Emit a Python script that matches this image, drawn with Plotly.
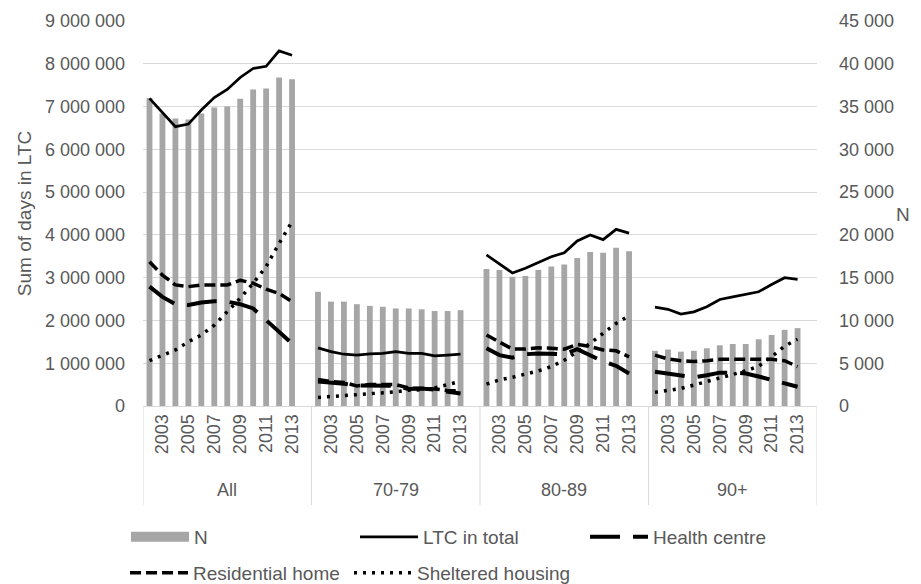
import plotly.graph_objects as go

# ---------------- data ----------------
groups = ["All", "70-79", "80-89", "90+"]
years = [2002, 2003, 2004, 2005, 2006, 2007, 2008, 2009, 2010, 2011, 2012, 2013]
year_labels_shown = [2003, 2005, 2007, 2009, 2011, 2013]

# N (right axis)
n_all = [36000, 34200, 33600, 33500, 34200, 34900, 35000, 35900, 37000, 37100, 38400, 38200]
n_7079 = [13350, 12200, 12200, 11900, 11700, 11600, 11400, 11400, 11300, 11100, 11100, 11200]
n_8089 = [16000, 15900, 15100, 15200, 15900, 16300, 16550, 17300, 18000, 17900, 18500, 18100]
n_90 = [6450, 6600, 6350, 6450, 6750, 7100, 7250, 7250, 7800, 8300, 8900, 9100]

# LTC in total (left axis, days)
ltc_all = [7190000, 6850000, 6530000, 6590000, 6920000, 7210000, 7400000, 7680000, 7890000, 7940000, 8300000, 8200000]
ltc_7079 = [1360000, 1270000, 1210000, 1190000, 1220000, 1230000, 1270000, 1230000, 1230000, 1170000, 1190000, 1210000]
ltc_8089 = [3530000, 3330000, 3110000, 3220000, 3350000, 3490000, 3580000, 3860000, 4000000, 3890000, 4130000, 4040000]
ltc_90 = [2310000, 2260000, 2150000, 2200000, 2320000, 2490000, 2550000, 2610000, 2670000, 2840000, 3000000, 2960000]

# Health centre
hc_all = [2790000, 2550000, 2380000, 2360000, 2420000, 2450000, 2440000, 2380000, 2280000, 2010000, 1740000, 1460000]
hc_7079 = [570000, 550000, 520000, 480000, 470000, 480000, 470000, 400000, 410000, 380000, 330000, 290000]
hc_8089 = [1350000, 1190000, 1130000, 1210000, 1230000, 1230000, 1210000, 1330000, 1190000, 1040000, 940000, 760000]
hc_90 = [800000, 760000, 700000, 670000, 720000, 780000, 780000, 760000, 690000, 610000, 540000, 450000]

# Residential home
rh_all = [3370000, 3060000, 2830000, 2790000, 2830000, 2840000, 2830000, 2940000, 2870000, 2730000, 2630000, 2440000]
rh_7079 = [620000, 570000, 550000, 470000, 500000, 500000, 500000, 420000, 420000, 400000, 360000, 350000]
rh_8089 = [1660000, 1500000, 1330000, 1330000, 1360000, 1350000, 1330000, 1440000, 1390000, 1310000, 1290000, 1150000]
rh_90 = [1190000, 1100000, 1060000, 1040000, 1060000, 1090000, 1090000, 1090000, 1080000, 1090000, 1060000, 920000]

# Sheltered housing
sh_all = [1060000, 1190000, 1310000, 1500000, 1660000, 1890000, 2200000, 2520000, 2870000, 3260000, 3800000, 4310000]
sh_7079 = [200000, 220000, 240000, 270000, 280000, 300000, 330000, 370000, 380000, 420000, 510000, 580000]
sh_8089 = [510000, 610000, 670000, 740000, 820000, 920000, 1070000, 1270000, 1460000, 1700000, 1930000, 2110000]
sh_90 = [320000, 360000, 410000, 490000, 570000, 650000, 720000, 820000, 930000, 1150000, 1400000, 1560000]

# ---------------- layout helpers ----------------
SLOTS = len(years) + 1  # one empty category closes every group


def pos(g, i):
    return g * SLOTS + i


def join(series_by_group):
    xs, ys = [], []
    for g, vals in enumerate(series_by_group):
        xs += [pos(g, i) for i in range(len(vals))] + [None]
        ys += list(vals) + [None]
    return xs, ys


TEXT = "#595959"
GRID = "#d9d9d9"
BARC = "#a6a6a6"
FONT = "Liberation Sans"

OFF = 8  # default page margin of the HTML body
W, H = 921 - OFF, 584 - OFF
ML, MR, MT, MB = 143 - OFF, 104, 21 - OFF, 178
pw, ph = W - ML - MR, H - MT - MB


def px_x(x):  # reference page x -> paper
    return (x - OFF - ML) / pw


def px_y(y):  # reference page y -> paper
    return (H - MB - (y - OFF)) / ph


fig = go.Figure()

bx, by = join([n_all, n_7079, n_8089, n_90])
fig.add_trace(go.Bar(x=bx, y=by, name="N", marker=dict(color=BARC, line=dict(width=0)),
                     width=0.45, yaxis="y", showlegend=False, legendgroup="N"))
# legend swatch for N (wide grey block like the reference)
fig.add_trace(go.Scatter(x=[None], y=[None], name="N", mode="lines", yaxis="y",
                         line=dict(color=BARC, width=13), legend="legend", legendgroup="N"))

line_specs = [
    ("LTC in total", [ltc_all, ltc_7079, ltc_8089, ltc_90], dict(width=2.75, dash="solid"), "legend2"),
    ("Health centre", [hc_all, hc_7079, hc_8089, hc_90], dict(width=4, dash="30px,13px"), "legend3"),
    ("Residential home", [rh_all, rh_7079, rh_8089, rh_90], dict(width=3.5, dash="11px,5px"), "legend4"),
    ("Sheltered housing", [sh_all, sh_7079, sh_8089, sh_90], dict(width=3.5, dash="3px,6px"), "legend5"),
]
for name, ser, ln, lg in line_specs:
    lx, ly = join(ser)
    fig.add_trace(go.Scatter(x=lx, y=ly, name=name, mode="lines", yaxis="y2",
                             line=dict(color="black", **ln), legend=lg))

tickvals = [pos(g, years.index(y)) for g in range(len(groups)) for y in year_labels_shown]
ticktext = [str(y) for g in range(len(groups)) for y in year_labels_shown]

shapes = []
for g in range(len(groups) + 1):
    xb = g * SLOTS - 0.5
    shapes.append(dict(type="line", xref="x", yref="paper", x0=xb, x1=xb, y0=0, y1=px_y(505),
                       line=dict(color=GRID, width=1)))

annotations = []
for g, name in enumerate(groups):
    annotations.append(dict(x=g * SLOTS + (SLOTS - 1) / 2, y=px_y(490), xref="x", yref="paper",
                            text=name, showarrow=False, font=dict(size=18, color=TEXT, family=FONT),
                            xanchor="center", yanchor="middle"))
annotations.append(dict(x=px_x(903), y=px_y(215), xref="paper", yref="paper", text="N", showarrow=False,
                        font=dict(size=19, color=TEXT, family=FONT), xanchor="center", yanchor="middle"))


def legend_at(xref_px, yref_px):
    return dict(orientation="h", x=px_x(xref_px), xanchor="left", y=px_y(yref_px), yanchor="middle",
                itemwidth=58, font=dict(size=19, color=TEXT, family=FONT),
                bgcolor="rgba(0,0,0,0)", itemclick=False, itemdoubleclick=False)


fig.update_layout(
    width=W, height=H,
    margin=dict(l=ML, r=MR, t=MT, b=MB, autoexpand=False),
    plot_bgcolor="white", paper_bgcolor="white",
    font=dict(family=FONT, size=18, color=TEXT),
    separators=", ",
    barmode="overlay",
    xaxis=dict(range=[-0.5, len(groups) * SLOTS - 0.5], tickmode="array", tickvals=tickvals,
               ticktext=ticktext, tickangle=-90, showgrid=False, zeroline=False, showline=True,
               linecolor=GRID, linewidth=1, ticks="", tickfont=dict(size=18, color=TEXT),
               automargin=False, fixedrange=True),
    yaxis=dict(side="right", range=[0, 45000], dtick=5000, tickformat=",d", showgrid=False,
               zeroline=False, showline=False, ticks="", tickfont=dict(size=18, color=TEXT),
               ticklabelstandoff=21, automargin=False, fixedrange=True),
    yaxis2=dict(overlaying="y", side="left", range=[0, 9000000], dtick=1000000, tickformat=",d",
                showgrid=True, gridcolor=GRID, gridwidth=1, zeroline=False, showline=False, ticks="",
                tickfont=dict(size=18, color=TEXT), ticklabelstandoff=17, automargin=False,
                title=dict(text="Sum of days in LTC", font=dict(size=19, color=TEXT), standoff=8),
                fixedrange=True),
    legend=legend_at(126, 537),
    legend2=legend_at(355, 537),
    legend3=legend_at(585, 537),
    legend4=legend_at(125, 573),
    legend5=legend_at(349, 573),
    shapes=shapes,
    annotations=annotations,
    showlegend=True,
)

fig.write_html("out.html")
